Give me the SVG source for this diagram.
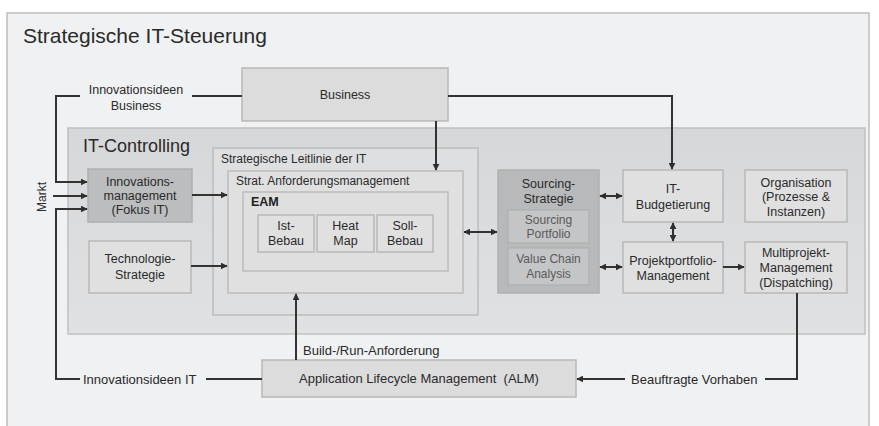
<svg xmlns="http://www.w3.org/2000/svg" width="879" height="426" viewBox="0 0 879 426">
<defs>
<marker id="ah" viewBox="0 0 10 10" refX="9" refY="5" markerWidth="7" markerHeight="7" markerUnits="userSpaceOnUse" orient="auto-start-reverse">
<path d="M0,0 L10,5 L0,10 z" fill="#2e2e2e"/>
</marker>
<linearGradient id="gc" x1="0" y1="0" x2="0" y2="1">
<stop offset="0" stop-color="#d6d7d8"/>
<stop offset="1" stop-color="#e0e1e2"/>
</linearGradient>
</defs>
<style>
text{font-family:"Liberation Sans",Arial,sans-serif;fill:#2a2a2a;}
.box{fill:#e0e0e1;stroke:#b8b8b8;stroke-width:1.5;}
.dark{fill:#bcbdbe;stroke:#b0b0b0;stroke-width:1.5;}
.inner{fill:#c4c5c6;stroke:#afafaf;stroke-width:1.2;}
.frame{fill:#dcddde;stroke:#bcbcbc;stroke-width:1.5;}
.t{font-size:12.5px;text-anchor:middle;}
.ti{font-size:12px;text-anchor:middle;fill:#5a5a5a;}
.lbl{font-size:12.5px;}
.c{fill:none;stroke:#333;stroke-width:2;}
.a{marker-end:url(#ah);}
.d{marker-start:url(#ah);marker-end:url(#ah);}
</style>
<rect x="0" y="0" width="879" height="426" fill="#ffffff"/>
<g id="outer">
<rect x="7" y="13" width="862" height="420" fill="#f0f1f2" stroke="#bdbdbd" stroke-width="1.5"/>
<text x="23" y="43" style="font-size:21px;fill:#2a2a2a">Strategische IT-Steuerung</text>
</g>
<g id="it-controlling">
<rect x="68" y="128" width="797" height="206" fill="url(#gc)" stroke="#c0c0c0" stroke-width="1.5"/>
<text x="83" y="152" style="font-size:18px;fill:#2a2a2a">IT-Controlling</text>
</g>
<g id="business">
<rect class="box" x="242" y="68" width="206" height="53" style="fill:#dcdcdd"/>
<text class="t" x="345" y="99">Business</text>
</g>
<g id="leitlinie">
<rect class="frame" x="213" y="148" width="265" height="167" style="fill:#dedfe0"/>
<text class="lbl" x="221" y="163" style="font-size:12px">Strategische Leitlinie der IT</text>
</g>
<g id="anforderung">
<rect class="frame" x="228" y="171" width="235" height="122" style="fill:#e0e0e1"/>
<text class="lbl" x="236" y="185" style="font-size:12px">Strat. Anforderungsmanagement</text>
</g>
<g id="eam">
<rect class="frame" x="243" y="192" width="205" height="79" style="fill:#dfdfe0"/>
<text x="251" y="206" style="font-size:12.5px;font-weight:bold;fill:#222">EAM</text>
</g>
<g id="ist-bebau">
<rect class="box" x="258" y="215" width="56" height="37"/>
<text class="t" x="286" y="230">Ist-</text>
<text class="t" x="286" y="245">Bebau</text>
</g>
<g id="heat-map">
<rect class="box" x="317" y="215" width="57" height="37"/>
<text class="t" x="345.5" y="230">Heat</text>
<text class="t" x="345.5" y="245">Map</text>
</g>
<g id="soll-bebau">
<rect class="box" x="377" y="215" width="56" height="37"/>
<text class="t" x="405" y="230">Soll-</text>
<text class="t" x="405" y="245">Bebau</text>
</g>
<g id="innovationsmanagement">
<rect class="dark" x="88" y="169" width="104" height="53"/>
<text class="t" x="140" y="186">Innovations-</text>
<text class="t" x="140" y="200">management</text>
<text class="t" x="140" y="214">(Fokus IT)</text>
</g>
<g id="technologie">
<rect class="box" x="89" y="241" width="102" height="52"/>
<text class="t" x="140" y="263">Technologie-</text>
<text class="t" x="140" y="279">Strategie</text>
</g>
<g id="sourcing">
<rect class="dark" x="498" y="170" width="101" height="123" style="fill:#b8b9ba"/>
<text class="t" x="548.5" y="188">Sourcing-</text>
<text class="t" x="548.5" y="203">Strategie</text>
</g>
<g id="sourcing-portfolio">
<rect class="inner" x="508" y="210" width="81" height="33"/>
<text class="ti" x="548.5" y="224">Sourcing</text>
<text class="ti" x="548.5" y="238">Portfolio</text>
</g>
<g id="value-chain">
<rect class="inner" x="508" y="248" width="81" height="37"/>
<text class="ti" x="548.5" y="263">Value Chain</text>
<text class="ti" x="548.5" y="278">Analysis</text>
</g>
<g id="budgetierung">
<rect class="box" x="623" y="170" width="100" height="52"/>
<text class="t" x="673" y="193">IT-</text>
<text class="t" x="673" y="209">Budgetierung</text>
</g>
<g id="projektportfolio">
<rect class="box" x="623" y="242" width="100" height="51"/>
<text class="t" x="673" y="265">Projektportfolio-</text>
<text class="t" x="673" y="280">Management</text>
</g>
<g id="organisation">
<rect class="box" x="745" y="170" width="102" height="52"/>
<text class="t" x="796" y="187">Organisation</text>
<text class="t" x="796" y="201">(Prozesse &amp;</text>
<text class="t" x="796" y="216">Instanzen)</text>
</g>
<g id="multiprojekt">
<rect class="box" x="745" y="242" width="102" height="51"/>
<text class="t" x="796" y="257">Multiprojekt-</text>
<text class="t" x="796" y="272">Management</text>
<text class="t" x="796" y="287">(Dispatching)</text>
</g>
<g id="alm">
<rect class="box" x="262" y="360" width="314" height="37" style="fill:#dcdcdd"/>
<text class="t" x="419" y="383" style="font-size:13px" xml:space="preserve">Application Lifecycle Management  (ALM)</text>
</g>
<g id="connectors">
<path class="c a" d="M80,96 H56 V182 H87"/>
<path class="c" d="M192,96 H242"/>
<path class="c a" d="M53,196 H87"/>
<path class="c a" d="M80,379 H56 V209 H87"/>
<path class="c" d="M206,379 H262"/>
<path class="c a" d="M192,195 H227"/>
<path class="c a" d="M191,266 H227"/>
<path class="c a" d="M436,121 V170"/>
<path class="c a" d="M448,96 H672 V169"/>
<path class="c a" d="M296,360 V294"/>
<path class="c" d="M765,379 H797 V293"/>
<path class="c a" d="M625,379 H577"/>
<path class="c d" d="M464,232 H497"/>
<path class="c d" d="M600,196 H622"/>
<path class="c d" d="M600,267 H622"/>
<path class="c d" d="M673,223 V241"/>
<path class="c a" d="M723,267 H744"/>
</g>
<g id="labels">
<text class="t" x="136" y="94" style="font-size:12.5px">Innovationsideen</text>
<text class="t" x="136" y="110" style="font-size:12.5px">Business</text>
<text x="83" y="384" style="font-size:13px">Innovationsideen IT</text>
<text x="303" y="355" style="font-size:13px">Build-/Run-Anforderung</text>
<text x="631" y="384" style="font-size:13px">Beauftragte Vorhaben</text>
<text x="0" y="0" transform="translate(46,197) rotate(-90)" style="font-size:12px;text-anchor:middle">Markt</text>
</g>
</svg>
